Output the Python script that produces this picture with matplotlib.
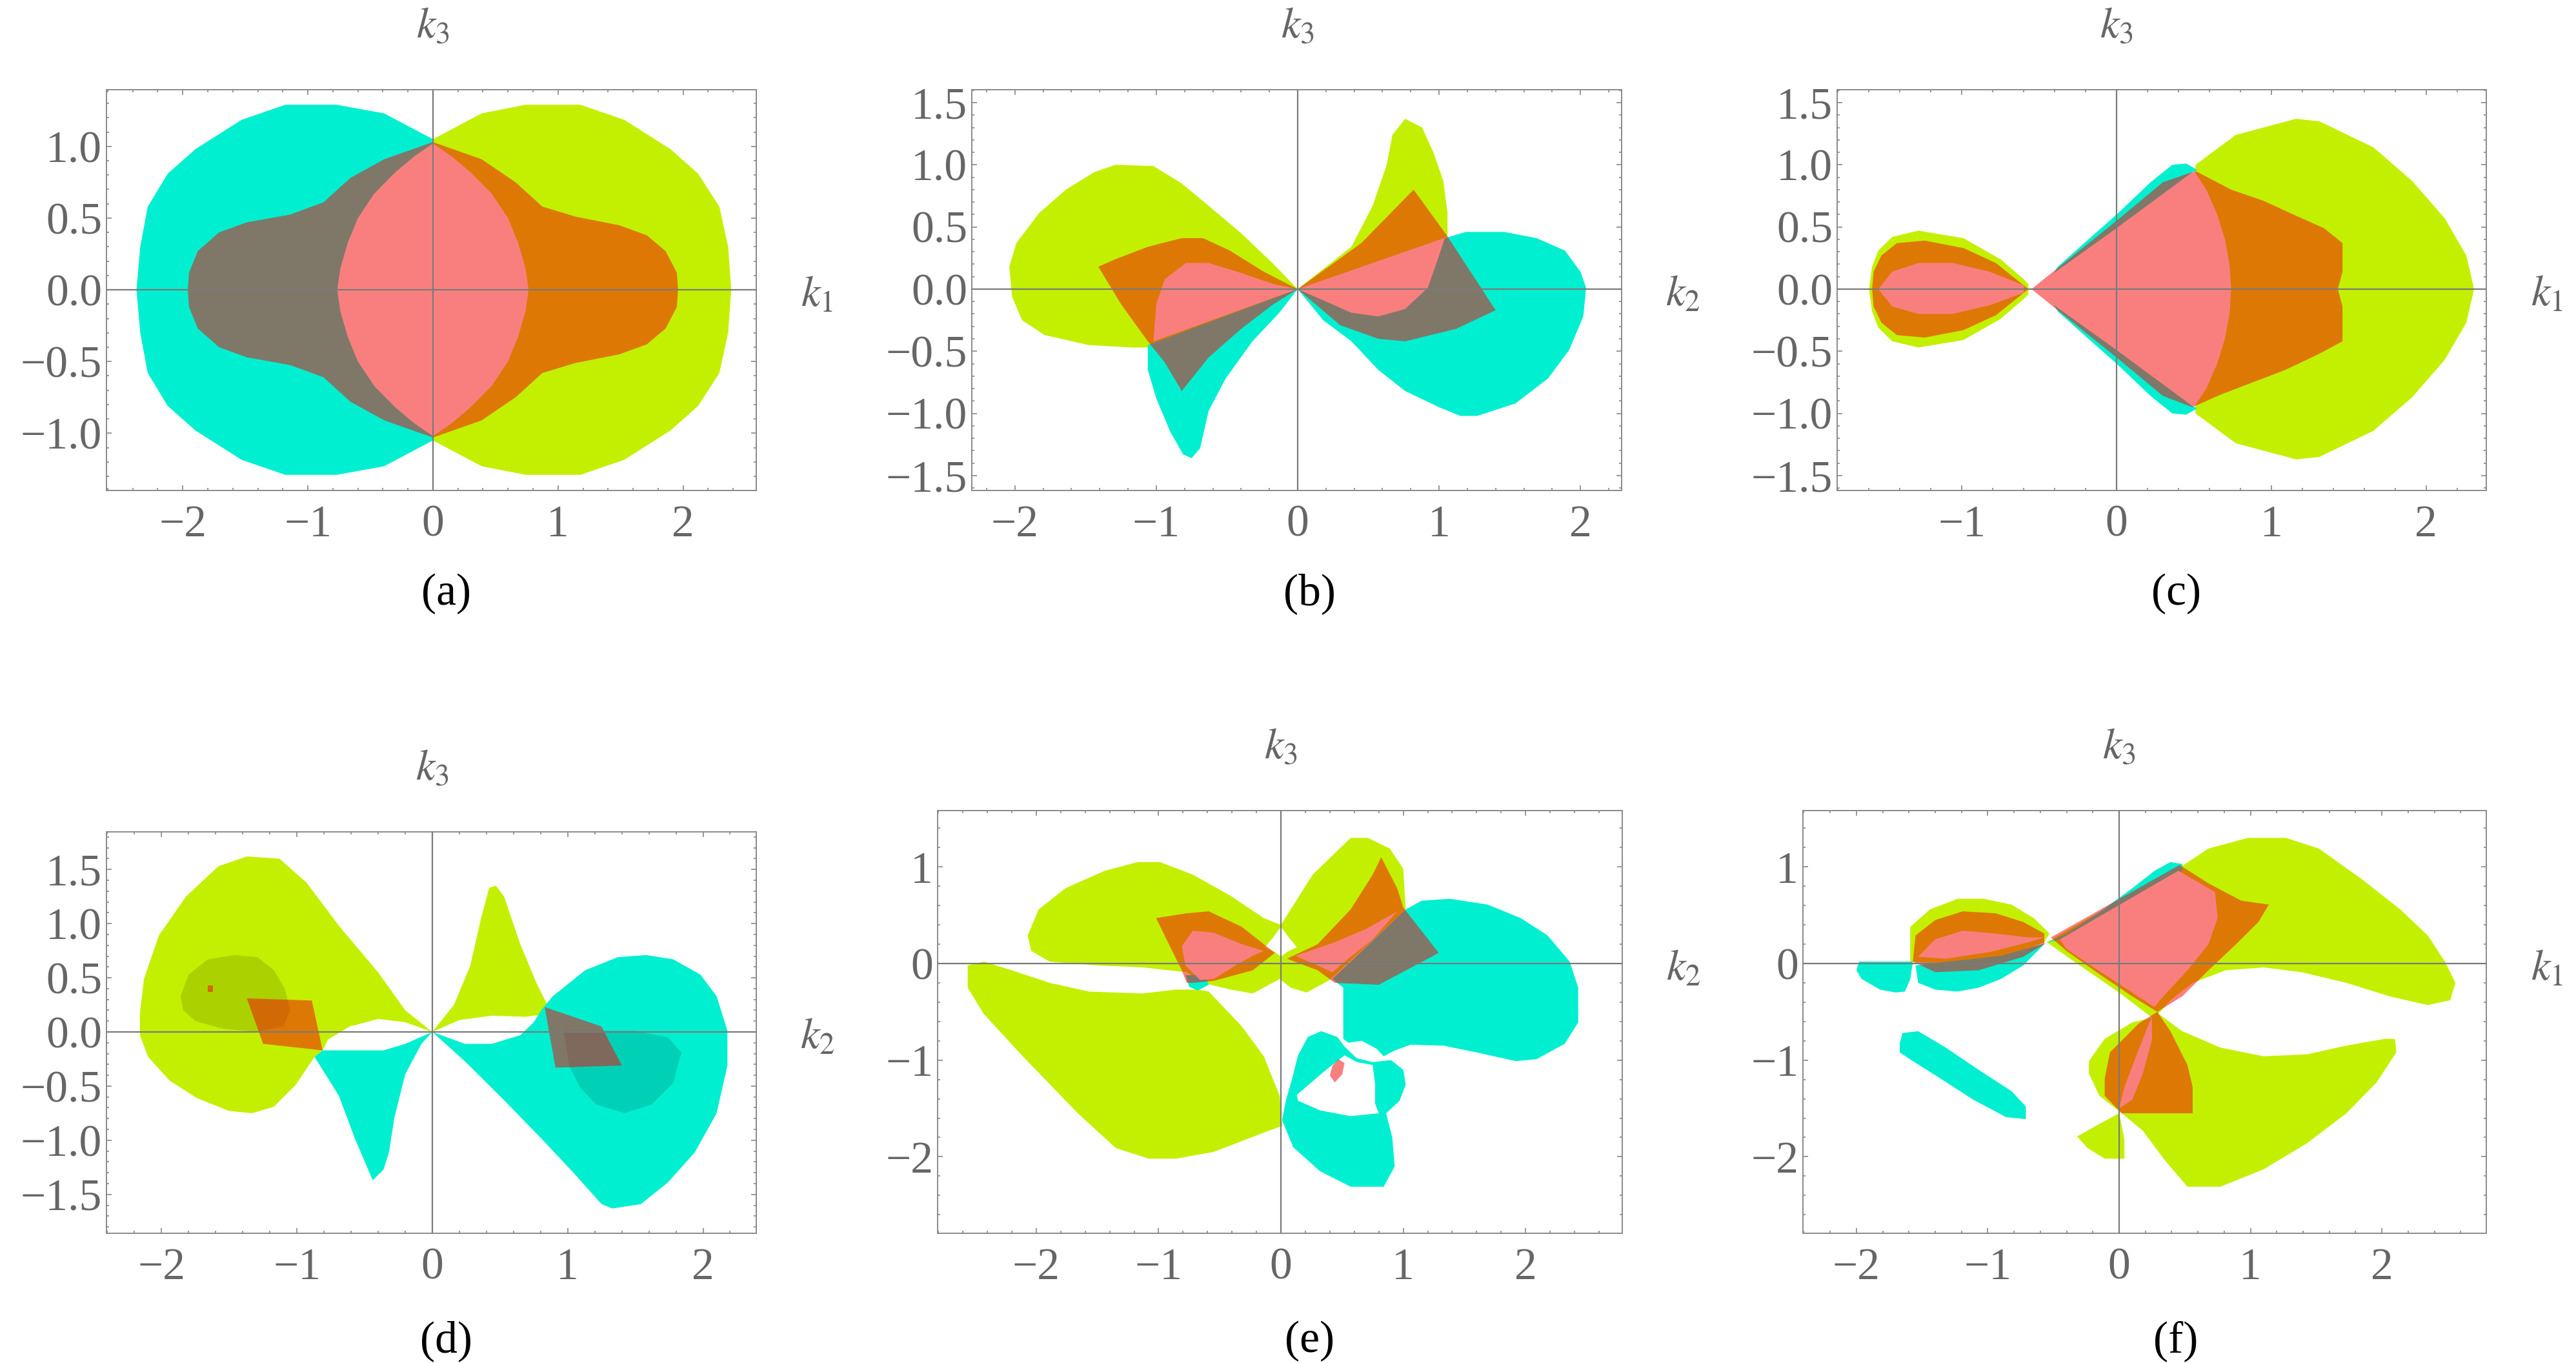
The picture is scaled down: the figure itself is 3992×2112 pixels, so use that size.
import matplotlib
matplotlib.use('Agg')
import matplotlib.pyplot as plt
from matplotlib.ticker import MultipleLocator, FixedLocator, FuncFormatter

# region outlines (data coords)
# ---- (a) k1-k3 plane
A_CYAN = [(0, 1.05), (-0.13, 1.11), (-0.39, 1.23), (-0.77, 1.29), (-1.18, 1.29), (-1.53, 1.185),
          (-1.90, 0.98), (-2.12, 0.81), (-2.28, 0.58), (-2.34, 0.30), (-2.37, 0), (-2.34, -0.30),
          (-2.28, -0.58), (-2.12, -0.81), (-1.90, -0.98), (-1.53, -1.185), (-1.18, -1.29),
          (-0.77, -1.29), (-0.39, -1.23), (-0.13, -1.11), (0, -1.05)]
A_YELLOW = [(0, 1.05), (0.13, 1.11), (0.39, 1.23), (0.74, 1.29), (1.18, 1.29), (1.53, 1.185),
            (1.90, 0.98), (2.12, 0.81), (2.29, 0.58), (2.36, 0.30), (2.385, 0), (2.36, -0.30),
            (2.29, -0.58), (2.12, -0.81), (1.90, -0.98), (1.53, -1.185), (1.18, -1.29),
            (0.74, -1.29), (0.39, -1.23), (0.13, -1.11), (0, -1.05)]
A_HOLE = [(0, 1.02), (-0.15, 0.93), (-0.30, 0.82), (-0.47, 0.67), (-0.60, 0.50), (-0.68, 0.33),
          (-0.74, 0.15), (-0.765, 0), (-0.74, -0.15), (-0.68, -0.33), (-0.60, -0.50), (-0.47, -0.67),
          (-0.30, -0.82), (-0.15, -0.93), (0, -1.02), (0.15, -0.93), (0.30, -0.82), (0.47, -0.67),
          (0.60, -0.50), (0.68, -0.33), (0.74, -0.15), (0.765, 0), (0.74, 0.15), (0.68, 0.33),
          (0.60, 0.50), (0.47, 0.67), (0.30, 0.82), (0.15, 0.93)]
A_RED = [(0, 1.03), (-0.39, 0.91), (-0.66, 0.78), (-0.875, 0.61), (-1.14, 0.525), (-1.49, 0.47),
         (-1.71, 0.40), (-1.88, 0.27), (-1.95, 0.12), (-1.96, 0), (-1.95, -0.12), (-1.88, -0.27),
         (-1.71, -0.40), (-1.49, -0.47), (-1.14, -0.525), (-0.875, -0.61), (-0.66, -0.78),
         (-0.39, -0.91), (0, -1.03), (0.39, -0.91), (0.66, -0.75), (0.875, -0.58), (1.14, -0.51),
         (1.49, -0.45), (1.71, -0.38), (1.86, -0.27), (1.95, -0.12), (1.96, 0), (1.95, 0.12),
         (1.86, 0.27), (1.71, 0.38), (1.49, 0.45), (1.14, 0.51), (0.875, 0.58), (0.66, 0.75),
         (0.39, 0.91)]

# ---- (b) k2-k3 plane
B_YELLOW_L = [(0, 0), (-0.17, 0.20), (-0.40, 0.45), (-0.63, 0.67), (-0.82, 0.85), (-1.02, 0.99),
              (-1.29, 1.0), (-1.44, 0.94), (-1.64, 0.80), (-1.83, 0.61), (-1.99, 0.37), (-2.04, 0.18),
              (-2.02, -0.06), (-1.95, -0.25), (-1.79, -0.37), (-1.48, -0.45), (-1.17, -0.47),
              (-1.06, -0.47)]
B_CYAN_L = [(0, 0), (-1.06, -0.45), (-1.06, -0.65), (-1.00, -0.88), (-0.90, -1.15), (-0.81, -1.33),
            (-0.75, -1.36), (-0.69, -1.28), (-0.63, -0.98), (-0.51, -0.72), (-0.32, -0.42),
            (-0.13, -0.19)]
B_HOLE_L = [(0, 0), (-0.17, 0.04), (-0.40, 0.13), (-0.63, 0.21), (-0.79, 0.21), (-0.94, 0.08),
            (-1.00, -0.12), (-1.02, -0.42)]
B_RED_L = [(0, 0), (-0.24, 0.14), (-0.48, 0.31), (-0.67, 0.41), (-0.82, 0.41), (-1.06, 0.34),
           (-1.29, 0.24), (-1.41, 0.18), (-1.25, -0.12), (-1.06, -0.42), (-0.94, -0.59),
           (-0.82, -0.82), (-0.63, -0.55), (-0.40, -0.32), (-0.17, -0.12)]
B_YELLOW_R = [(0, 0), (0.38, 0.34), (0.53, 0.67), (0.63, 1.0), (0.67, 1.24), (0.76, 1.37),
              (0.88, 1.30), (0.96, 1.10), (1.03, 0.87), (1.06, 0.61), (1.06, 0.42)]
B_CYAN_R = [(0, 0), (0.18, -0.25), (0.38, -0.42), (0.57, -0.65), (0.76, -0.82), (1.0, -0.95),
            (1.15, -1.02), (1.27, -1.02), (1.54, -0.92), (1.77, -0.72), (1.92, -0.49),
            (2.02, -0.22), (2.04, 0.01), (2.0, 0.14), (1.89, 0.31), (1.69, 0.41), (1.46, 0.46),
            (1.19, 0.46), (1.07, 0.42)]
B_HOLE_R = [(0, 0), (1.04, 0.41), (1.00, 0.27), (0.92, 0.01), (0.76, -0.16), (0.57, -0.22),
            (0.38, -0.19), (0.18, -0.09)]
B_RED_R = [(0, 0), (0.45, 0.37), (0.82, 0.80), (1.05, 0.44), (1.40, -0.17), (1.12, -0.32),
           (0.76, -0.42), (0.57, -0.40), (0.30, -0.29)]

# ---- (c) k1-k3 plane
C_YELLOW_R = [(0.51, 1.0), (0.77, 1.24), (1.16, 1.37), (1.31, 1.35), (1.66, 1.14), (1.91, 0.87),
              (2.12, 0.57), (2.26, 0.27), (2.31, 0), (2.26, -0.27), (2.12, -0.57), (1.91, -0.87),
              (1.66, -1.14), (1.31, -1.35), (1.16, -1.37), (0.77, -1.24), (0.51, -1.0)]
C_YELLOW_L = [(-0.57, 0.04), (-0.60, 0.08), (-0.75, 0.24), (-0.99, 0.41), (-1.28, 0.47),
              (-1.45, 0.42), (-1.54, 0.31), (-1.58, 0.18), (-1.60, 0), (-1.58, -0.18),
              (-1.54, -0.31), (-1.45, -0.42), (-1.28, -0.47), (-0.99, -0.41), (-0.75, -0.24),
              (-0.60, -0.08), (-0.57, -0.04)]
C_CYAN_U = [(-0.42, 0.10), (-0.38, 0.18), (-0.20, 0.38), (0.0, 0.60), (0.22, 0.86), (0.36, 1.0),
            (0.45, 1.01), (0.52, 0.96), (0.0, 0.49)]
C_CYAN_D = [(-0.42, -0.10), (-0.38, -0.18), (-0.20, -0.38), (0.0, -0.60), (0.22, -0.86),
            (0.36, -1.0), (0.45, -1.01), (0.52, -0.96), (0.0, -0.49)]
C_HOLE_R = [(-0.55, 0), (0.0, 0.49), (0.50, 0.95), (0.58, 0.80), (0.65, 0.60), (0.70, 0.40),
            (0.73, 0.20), (0.74, 0), (0.73, -0.20), (0.70, -0.40), (0.65, -0.60), (0.58, -0.80),
            (0.50, -0.95), (0.0, -0.49)]
C_HOLE_L = [(-0.60, 0.03), (-0.82, 0.14), (-1.06, 0.21), (-1.28, 0.21), (-1.45, 0.14), (-1.54, 0),
            (-1.45, -0.14), (-1.28, -0.20), (-1.06, -0.20), (-0.82, -0.13), (-0.60, -0.03)]
C_RED_R = [(-0.55, 0), (-0.3, 0.25), (0.0, 0.55), (0.3, 0.86), (0.51, 0.95), (0.74, 0.80),
           (0.95, 0.71), (1.16, 0.59), (1.34, 0.49), (1.46, 0.37), (1.46, 0.14), (1.43, 0),
           (1.46, -0.14), (1.46, -0.42), (1.31, -0.52), (1.09, -0.65), (0.88, -0.75),
           (0.67, -0.85), (0.49, -0.95), (0.3, -0.86), (0.0, -0.55), (-0.3, -0.25)]
C_RED_L = [(-0.57, 0), (-0.78, 0.21), (-0.99, 0.33), (-1.24, 0.39), (-1.42, 0.37), (-1.52, 0.27),
           (-1.57, 0.14), (-1.58, 0), (-1.57, -0.14), (-1.52, -0.27), (-1.42, -0.37),
           (-1.24, -0.39), (-0.99, -0.33), (-0.78, -0.21)]

# ---- (d) k2-k3 plane
D_YELLOW_L = [(0, 0), (-0.20, 0.20), (-0.40, 0.55), (-0.69, 0.98), (-0.93, 1.38), (-1.13, 1.60),
              (-1.37, 1.62), (-1.58, 1.53), (-1.82, 1.25), (-2.02, 0.89), (-2.13, 0.49),
              (-2.16, 0.17), (-2.16, -0.03), (-2.10, -0.23), (-1.94, -0.45), (-1.74, -0.61),
              (-1.50, -0.73), (-1.33, -0.75), (-1.17, -0.69), (-1.01, -0.49), (-0.87, -0.23),
              (-0.81, -0.17), (-0.77, -0.07), (-0.61, 0.05), (-0.40, 0.12), (-0.20, 0.09)]
D_CYAN_L = [(0, 0), (-0.20, -0.11), (-0.36, -0.17), (-0.57, -0.17), (-0.81, -0.17), (-0.87, -0.23),
            (-0.69, -0.59), (-0.57, -0.99), (-0.44, -1.37), (-0.36, -1.27), (-0.32, -1.11),
            (-0.28, -0.79), (-0.20, -0.39), (-0.08, -0.11)]
D_YELLOW_M = [(0, 0), (0.16, 0.25), (0.28, 0.61), (0.36, 1.05), (0.42, 1.33), (0.47, 1.35),
              (0.53, 1.25), (0.65, 0.81), (0.77, 0.45), (0.85, 0.25), (0.87, 0.17), (0.69, 0.14),
              (0.44, 0.15), (0.20, 0.11)]
D_CYAN_R = [(0, 0), (0.24, -0.11), (0.44, -0.11), (0.65, -0.03), (0.75, 0.09), (0.81, 0.21),
            (0.89, 0.33), (1.13, 0.57), (1.37, 0.69), (1.58, 0.71), (1.78, 0.67), (1.98, 0.53),
            (2.10, 0.33), (2.18, 0.01), (2.18, -0.31), (2.10, -0.75), (1.94, -1.11),
            (1.74, -1.39), (1.54, -1.59), (1.33, -1.63), (1.25, -1.59), (1.05, -1.31),
            (0.81, -0.99), (0.53, -0.63), (0.24, -0.27)]
D_SHADE_L = [(-1.86, 0.33), (-1.80, 0.53), (-1.66, 0.67), (-1.46, 0.71), (-1.29, 0.69),
             (-1.17, 0.57), (-1.09, 0.40), (-1.05, 0.20), (-1.10, 0.05), (-1.30, 0.0),
             (-1.55, 0.03), (-1.75, 0.10), (-1.84, 0.20)]
D_SHADE_R = [(0.97, 0.01), (1.20, 0.01), (1.50, 0.01), (1.74, -0.05), (1.84, -0.19),
             (1.78, -0.47), (1.62, -0.67), (1.42, -0.75), (1.21, -0.67), (1.09, -0.51),
             (1.01, -0.31)]
D_RED_L = [(-1.37, 0.31), (-0.89, 0.29), (-0.81, -0.17), (-1.25, -0.11)]
D_RED_DOT = [(-1.66, 0.37), (-1.62, 0.37), (-1.62, 0.43), (-1.66, 0.43)]
D_RED_R = [(0.83, 0.23), (1.25, 0.05), (1.40, -0.31), (0.91, -0.33)]

# ---- (e) k2-k3 plane
E_YELLOW_C = [(-2.07, 0.29), (-1.98, 0.56), (-1.76, 0.78), (-1.44, 0.96), (-1.17, 1.05),
              (-0.99, 1.05), (-0.72, 0.92), (-0.41, 0.70), (-0.14, 0.47), (0.0, 0.40), (0.1, 0.60),
              (0.26, 0.92), (0.48, 1.19), (0.57, 1.30), (0.71, 1.30), (0.89, 1.19), (1.0, 0.98),
              (1.02, 0.56), (0.40, -0.17), (0.21, -0.30), (0.08, -0.25), (-0.01, -0.16),
              (-0.23, -0.31), (-0.41, -0.27), (-0.64, -0.20), (-0.77, -0.09), (-1.13, -0.04),
              (-1.49, -0.02), (-1.89, 0.02), (-2.04, 0.13)]
E_YELLOW_B = [(-2.56, -0.02), (-2.43, 0.02), (-2.20, -0.07), (-1.89, -0.20), (-1.57, -0.29),
              (-1.13, -0.31), (-0.86, -0.27), (-0.68, -0.27), (-0.59, -0.29), (-0.32, -0.65),
              (-0.14, -0.96), (-0.01, -1.37), (0.01, -1.68), (-0.14, -1.75), (-0.55, -1.95),
              (-0.86, -2.02), (-1.08, -2.02), (-1.35, -1.91), (-1.66, -1.55), (-2.11, -0.96),
              (-2.43, -0.52), (-2.56, -0.25)]
E_CYAN_R = [(1.02, 0.56), (1.15, 0.65), (1.38, 0.67), (1.69, 0.61), (1.96, 0.47), (2.18, 0.29),
            (2.36, 0.02), (2.43, -0.25), (2.43, -0.61), (2.32, -0.83), (2.09, -0.99),
            (1.92, -1.01), (1.60, -0.92), (1.33, -0.85), (1.06, -0.84), (0.93, -0.90),
            (0.84, -0.96), (0.78, -0.88), (0.66, -0.80), (0.55, -0.82), (0.51, -0.78),
            (0.51, -0.25), (0.42, -0.16)]
E_CYAN_RING = [(0.33, -0.70), (0.46, -0.76), (0.52, -0.86), (0.62, -0.98), (0.75, -1.02),
               (0.90, -1.0), (1.0, -1.10), (1.02, -1.25), (0.97, -1.42), (0.86, -1.55),
               (0.91, -1.80), (0.93, -2.10), (0.84, -2.31), (0.57, -2.31), (0.32, -2.15),
               (0.10, -1.90), (0.01, -1.62), (0.04, -1.42), (0.09, -1.20), (0.14, -0.95),
               (0.22, -0.76)]
E_CYAN_S = [(-0.78, -0.12), (-0.62, -0.12), (-0.59, -0.22), (-0.68, -0.28), (-0.75, -0.24)]
E_HOLE_RING = [(0.13, -1.36), (0.35, -1.12), (0.52, -0.95), (0.62, -1.02), (0.75, -1.05),
               (0.77, -1.25), (0.77, -1.45), (0.80, -1.55), (0.57, -1.58), (0.32, -1.52),
               (0.14, -1.42)]
E_HOLE_C = [(0, 0.38), (0.07, 0.26), (0.13, 0.17), (0.05, 0.12), (0, 0.07), (-0.05, 0.12),
            (-0.13, 0.17), (-0.07, 0.26)]
E_HOLE_L = [(-0.81, 0.18), (-0.72, 0.34), (-0.55, 0.32), (-0.32, 0.20), (-0.14, 0.13),
            (-0.23, 0.08), (-0.37, -0.02), (-0.55, -0.16), (-0.66, -0.17), (-0.78, -0.02)]
E_HOLE_R = [(0.12, 0.08), (0.44, 0.22), (0.70, 0.36), (0.95, 0.54), (0.75, 0.25), (0.55, 0.05),
            (0.42, -0.09), (0.30, -0.02)]
E_RED_L = [(-1.02, 0.47), (-0.77, 0.52), (-0.59, 0.54), (-0.32, 0.38), (-0.05, 0.11),
           (-0.23, -0.07), (-0.55, -0.18), (-0.72, -0.20), (-0.77, -0.20), (-0.81, -0.07),
           (-0.90, 0.16)]
E_RED_R = [(0.05, 0.05), (0.30, 0.20), (0.57, 0.56), (0.75, 0.92), (0.82, 1.10), (0.95, 0.78),
           (1.0, 0.58), (1.29, 0.11), (0.80, -0.22), (0.44, -0.20), (0.30, -0.07)]
E_RED_SPOT = [(0.42, -1.06), (0.47, -0.99), (0.52, -1.03), (0.50, -1.15), (0.44, -1.23),
              (0.40, -1.16)]

# ---- (f) k1-k3 plane
F_YELLOW_B = [(0.48, 1.01), (0.68, 1.19), (0.98, 1.30), (1.27, 1.30), (1.52, 1.19), (1.85, 0.87),
              (2.14, 0.56), (2.35, 0.29), (2.48, 0.02), (2.56, -0.20), (2.52, -0.38),
              (2.35, -0.43), (2.06, -0.34), (1.73, -0.20), (1.39, -0.09), (1.10, -0.04),
              (0.81, -0.07), (0.56, -0.20), (0.39, -0.38), (0.30, -0.52), (0.48, -0.70),
              (0.77, -0.87), (1.10, -0.96), (1.43, -0.94), (1.73, -0.85), (2.02, -0.78),
              (2.10, -0.78), (2.11, -0.92), (1.96, -1.23), (1.73, -1.55), (1.43, -1.86),
              (1.10, -2.13), (0.77, -2.31), (0.52, -2.31), (0.35, -2.04), (0.18, -1.73),
              (0.02, -1.55), (-0.15, -1.37), (-0.23, -1.14), (-0.23, -1.01), (-0.11, -0.78),
              (0.10, -0.61), (0.25, -0.56), (0.0, -0.30), (-0.3, -0.02), (-0.55, 0.22),
              (-0.45, 0.30), (0.0, 0.65), (0.45, 0.99)]
F_YELLOW_L = [(-1.59, 0.02), (-1.59, 0.38), (-1.44, 0.56), (-1.23, 0.67), (-1.03, 0.67),
              (-0.82, 0.61), (-0.65, 0.47), (-0.53, 0.31), (-0.57, 0.22), (-0.9, 0.05),
              (-1.3, 0.0)]
F_YELLOW_T = [(-0.32, -1.79), (-0.15, -1.66), (0.0, -1.55), (0.04, -1.82), (0.04, -2.02),
              (-0.11, -2.02), (-0.24, -1.91)]
F_CYAN_BAND = [(-1.55, -0.02), (-1.53, -0.20), (-1.40, -0.27), (-1.23, -0.29), (-1.07, -0.25),
               (-0.90, -0.16), (-0.73, -0.02), (-0.57, 0.20), (-0.40, 0.31), (-0.15, 0.53),
               (0.10, 0.78), (0.27, 0.96), (0.39, 1.05), (0.48, 1.03), (0.48, 0.96), (0.0, 0.58),
               (-0.45, 0.25), (-0.9, 0.08), (-1.3, 0.02)]
F_CYAN_S = [(-1.98, 0.02), (-2.0, -0.07), (-1.96, -0.16), (-1.82, -0.27), (-1.70, -0.30),
            (-1.63, -0.29), (-1.59, -0.16), (-1.57, 0.02)]
F_CYAN_L2 = [(-1.67, -0.83), (-1.65, -0.72), (-1.53, -0.70), (-1.32, -0.87), (-1.07, -1.10),
             (-0.82, -1.32), (-0.71, -1.48), (-0.71, -1.61), (-0.86, -1.59), (-1.11, -1.41),
             (-1.36, -1.19), (-1.57, -1.01), (-1.67, -0.92)]
F_HOLE_L = [(-1.53, 0.07), (-1.40, 0.25), (-1.19, 0.34), (-0.94, 0.31), (-0.69, 0.27),
            (-0.57, 0.27), (-0.69, 0.22), (-0.98, 0.12), (-1.32, 0.05)]
F_HOLE_C = [(-0.45, 0.25), (0.45, 0.96), (0.73, 0.74), (0.75, 0.47), (0.68, 0.20), (0.52, -0.07),
            (0.31, -0.38), (0.27, -0.45), (0.10, -0.30), (-0.15, -0.08), (-0.40, 0.15)]
F_HOLE_B = [(0.25, -0.56), (0.23, -0.61), (0.14, -0.92), (0.04, -1.28), (0.0, -1.50),
            (0.10, -1.41), (0.18, -1.14), (0.25, -0.79)]
F_RED_L = [(-1.57, 0.02), (-1.55, 0.29), (-1.40, 0.45), (-1.19, 0.54), (-0.94, 0.52),
           (-0.73, 0.43), (-0.57, 0.31), (-0.57, 0.20), (-0.73, 0.07), (-1.07, -0.07),
           (-1.40, -0.09)]
F_RED_C = [(-0.52, 0.27), (0.46, 1.02), (0.68, 0.83), (0.93, 0.65), (1.14, 0.61), (1.06, 0.43),
           (0.89, 0.20), (0.68, -0.07), (0.48, -0.34), (0.29, -0.50), (0.10, -0.34),
           (-0.15, -0.11), (-0.40, 0.13)]
F_RED_B = [(0.29, -0.50), (0.39, -0.70), (0.52, -1.05), (0.56, -1.28), (0.56, -1.55),
           (0.02, -1.55), (-0.11, -1.37), (-0.11, -1.19), (-0.07, -0.92), (0.15, -0.62)]

# axis ranges / ticks / labels per panel
TAGS = ['(a)', '(b)', '(c)', '(d)', '(e)', '(f)']
H_LABELS = ['$k_1$', '$k_2$', '$k_1$', '$k_2$', '$k_2$', '$k_1$']
XLIMS = [(-2.61, 2.585), (-2.305, 2.291), (-1.806, 2.389), (-2.407, 2.393), (-2.806, 2.79), (-2.407, 2.795)]
YLIMS = [(-1.399, 1.395), (-1.62, 1.604), (-1.62, 1.604), (-1.859, 1.847), (-2.792, 1.583), (-2.792, 1.583)]
XTICKS = [[-2, -1, 0, 1, 2], [-2, -1, 0, 1, 2], [-1, 0, 1, 2], [-2, -1, 0, 1, 2], [-2, -1, 0, 1, 2], [-2, -1, 0, 1, 2]]
YTICKS = [[-1.0, -0.5, 0.0, 0.5, 1.0], [-1.5, -1.0, -0.5, 0.0, 0.5, 1.0, 1.5], [-1.5, -1.0, -0.5, 0.0, 0.5, 1.0, 1.5],
          [-1.5, -1.0, -0.5, 0.0, 0.5, 1.0, 1.5], [-2, -1, 0, 1], [-2, -1, 0, 1]]

YELLOWS = [[A_YELLOW], [B_YELLOW_L, B_YELLOW_R], [C_YELLOW_R, C_YELLOW_L], [D_YELLOW_L, D_YELLOW_M],
           [E_YELLOW_C, E_YELLOW_B], [F_YELLOW_B, F_YELLOW_L, F_YELLOW_T]]
CYANS = [[A_CYAN], [B_CYAN_L, B_CYAN_R], [C_CYAN_U, C_CYAN_D], [D_CYAN_L, D_CYAN_R],
         [E_CYAN_R, E_CYAN_RING, E_CYAN_S], [F_CYAN_BAND, F_CYAN_S, F_CYAN_L2]]
SHADES = [[], [], [], [D_SHADE_L, D_SHADE_R], [], []]
HOLES = [[A_HOLE], [B_HOLE_L, B_HOLE_R], [C_HOLE_R, C_HOLE_L], [], [E_HOLE_RING, E_HOLE_C, E_HOLE_L, E_HOLE_R],
         [F_HOLE_L, F_HOLE_C, F_HOLE_B]]
REDS = [[A_RED], [B_RED_L, B_RED_R], [C_RED_R, C_RED_L], [D_RED_L, D_RED_R, D_RED_DOT],
        [E_RED_L, E_RED_R, E_RED_SPOT], [F_RED_L, F_RED_C, F_RED_B]]

# layout (figure fractions)
RECTS = [[0.04133, 0.64015, 0.25225, 0.29403], [0.37725, 0.64015, 0.25225, 0.29403],
         [0.71317, 0.64015, 0.25200, 0.29403], [0.04133, 0.09517, 0.25225, 0.29450],
         [0.36398, 0.09517, 0.26578, 0.31013], [0.69990, 0.09517, 0.26528, 0.31013]]
TAG_POS = [(0.1731, 0.5644), (0.5085, 0.5644), (0.8447, 0.5644),
           (0.1731, 0.0160), (0.5085, 0.0160), (0.8447, 0.0160)]

CYAN = '#00EFD0'
YELLOW = '#C3F000'
RED = '#F50B0A'
GREY_TXT = '#666666'

plt.rcParams['font.family'] = ['Liberation Serif', 'DejaVu Serif']
plt.rcParams['mathtext.fontset'] = 'stix'

fig = plt.figure(figsize=(19.96, 10.56), dpi=200)


def fill_all(ax, polys, **kw):
    for p in polys:
        xs = [q[0] for q in p]
        ys = [q[1] for q in p]
        ax.fill(xs, ys, lw=0, **kw)


def tick_fmt(decimals):
    def f(v, pos):
        s = f'{v:.{decimals}f}'
        if abs(v) < 1e-9:
            s = s.lstrip('-')
        return s.replace('-', '\u2212')
    return FuncFormatter(f)


for i in range(6):
    ax = fig.add_axes(RECTS[i])
    fill_all(ax, YELLOWS[i], color=YELLOW, zorder=1)
    fill_all(ax, CYANS[i], color=CYAN, zorder=2)
    fill_all(ax, SHADES[i], color='black', alpha=0.12, zorder=3)
    fill_all(ax, HOLES[i], color='white', zorder=3)
    fill_all(ax, REDS[i], color=RED, alpha=0.52, zorder=4)

    ax.axhline(0, color='#7a7a7a', lw=0.8, zorder=5)
    ax.axvline(0, color='#7a7a7a', lw=0.8, zorder=5)

    ax.set_xlim(*XLIMS[i])
    ax.set_ylim(*YLIMS[i])
    ax.xaxis.set_major_locator(FixedLocator(XTICKS[i]))
    ax.yaxis.set_major_locator(FixedLocator(YTICKS[i]))
    ax.xaxis.set_minor_locator(MultipleLocator(0.2))
    ax.yaxis.set_minor_locator(MultipleLocator(0.2 if i >= 4 else 0.1))
    ax.xaxis.set_major_formatter(tick_fmt(0))
    ax.yaxis.set_major_formatter(tick_fmt(0 if i >= 4 else 1))

    ax.tick_params(which='both', direction='in', top=True, right=True, color='#888888', width=0.6)
    ax.tick_params(which='major', length=3.0)
    ax.tick_params(which='minor', length=1.6)
    ax.tick_params(axis='x', which='major', pad=8, labelsize=25, labelcolor=GREY_TXT)
    ax.tick_params(axis='y', which='major', pad=2.5, labelsize=25, labelcolor=GREY_TXT)
    for sp in ax.spines.values():
        sp.set_color('#8a8a8a')
        sp.set_linewidth(0.7)

    # axis labels at the ends of the axes, as in the original
    ax.annotate('$k_3$', xy=(0, 1), xycoords=ax.get_xaxis_transform(), xytext=(0, 35),
                textcoords='offset points', ha='center', va='center', fontsize=24, color=GREY_TXT)
    ax.annotate(H_LABELS[i], xy=(1, 0), xycoords=ax.get_yaxis_transform(), xytext=(34, -3),
                textcoords='offset points', ha='center', va='center', fontsize=24, color=GREY_TXT)

    fig.text(TAG_POS[i][0], TAG_POS[i][1], TAGS[i], ha='center', va='center', fontsize=25, color='black')

fig.savefig('out.png', dpi=200)
